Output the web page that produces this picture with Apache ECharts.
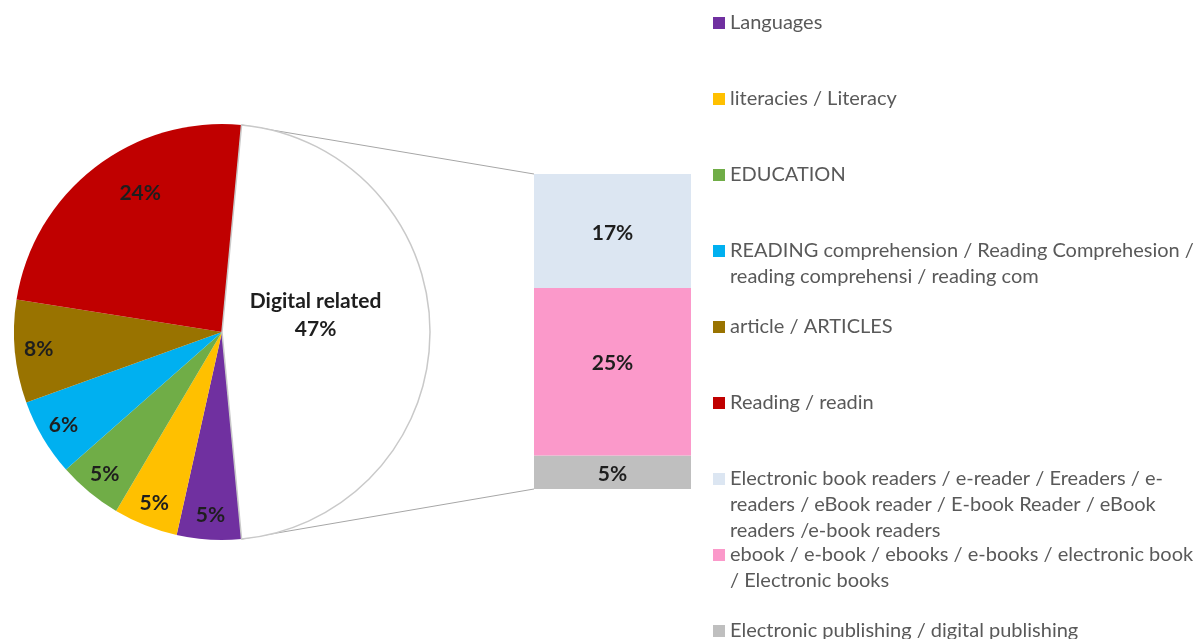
<!DOCTYPE html>
<html>
<head>
<meta charset="utf-8">
<script src="https://cdn.jsdelivr.net/npm/echarts@6/dist/echarts.min.js"></script>
<style>
    html, body { margin: 0; padding: 0; background: #fff; }
    #chart { width: 1201px; height: 639px; }
</style>
</head>
<body>
<div id="chart"></div>
<script>
// pie slices (clockwise, starting after the "Digital related" slice)
const pieNames = [
    'Languages',
    'literacies / Literacy',
    'EDUCATION',
    'READING comprehension / Reading Comprehesion /\nreading comprehensi / reading com',
    'article / ARTICLES',
    'Reading / readin',
];
const pieValues = [5, 5, 5, 6, 8, 24];
const pieColors = ['#7030a0', '#ffc000', '#70ad47', '#00b0f0', '#997300', '#c00000'];

// breakdown of the "Digital related" slice, top to bottom in the bar
const groupName = 'Digital related';
const barNames = [
    'Electronic book readers / e-reader / Ereaders / e-\nreaders / eBook reader / E-book Reader / eBook\nreaders /e-book readers',
    'ebook / e-book / ebooks / e-books / electronic book\n/ Electronic books',
    'Electronic publishing / digital publishing',
];
const barValues = [17, 25, 5];
const barColors = ['#dce6f2', '#fb99ca', '#bfbfbf'];

const FONT = 'Lato, "Noto Sans", sans-serif';
const pieCenter = [222, 332];
const pieRadius = 208;
const barGrid = { left: 534, top: 174, width: 157, height: 315 };

const groupTotal = barValues.reduce((a, b) => a + b, 0);
const total = groupTotal + pieValues.reduce((a, b) => a + b, 0);
const groupAngle = groupTotal / total * 360;

const chart = echarts.init(document.getElementById('chart'));

// label placement inside the pie (fraction of radius + small nudge)
const labelPlace = (idx) => {
    if (idx === pieNames.length) return { k: 0.45, dx: 0, dy: -17 };
    if (idx === 5) return { k: 0.775, dx: 17, dy: -11 };
    return { k: 0.885, dx: 0, dy: 0 };
};

const legendItems = [...pieNames, ...barNames];

chart.setOption({
    animation: false,
    legend: legendItems.map((name, i) => {
        const lines = name.split('\n').length;
        // pad with blank lines so the icon sits on the first text line
        const padded = 2 * lines - 1;
        return {
            data: [name],
            orient: 'vertical',
            left: 713,
            top: 23 + 76 * i - padded * 13,
            padding: 0,
            icon: 'rect',
            itemWidth: 12,
            itemHeight: 12,
            selectedMode: false,
            formatter: (n) => '\n'.repeat(lines - 1) + n,
            textStyle: { fontFamily: FONT, fontSize: 20, color: '#595959', lineHeight: 26 },
        };
    }),
    grid: barGrid,
    xAxis: { type: 'category', data: [groupName], show: false },
    yAxis: { type: 'value', min: 0, max: groupTotal, show: false },
    series: [
        {
            type: 'pie',
            center: pieCenter,
            radius: pieRadius,
            startAngle: -groupAngle / 2,
            clockwise: true,
            avoidLabelOverlap: false,
            silent: true,
            emphasis: { disabled: true },
            data: [
                ...pieNames.map((name, i) => ({
                    name,
                    value: pieValues[i],
                    itemStyle: { color: pieColors[i] },
                })),
                {
                    name: groupName,
                    value: groupTotal,
                    itemStyle: { color: '#ffffff', borderColor: '#c9c9c9', borderWidth: 1.5 },
                },
            ],
            label: {
                position: 'inside',
                fontFamily: FONT,
                fontWeight: 'bold',
                fontSize: 21,
                lineHeight: 28,
                color: '#1e1e1e',
                align: 'center',
                verticalAlign: 'middle',
                formatter: (p) => (p.name === groupName ? `${p.name}\n${p.value}%` : `${p.value}%`),
            },
            labelLine: { show: false },
            labelLayout: (p) => {
                const r = p.labelRect;
                const lx = r.x + r.width / 2 - pieCenter[0];
                const ly = r.y + r.height / 2 - pieCenter[1];
                const len = Math.sqrt(lx * lx + ly * ly) || 1;
                const pl = labelPlace(p.dataIndex);
                return {
                    x: pieCenter[0] + lx / len * pieRadius * pl.k + pl.dx,
                    y: pieCenter[1] + ly / len * pieRadius * pl.k + pl.dy,
                    align: 'center',
                    verticalAlign: 'middle',
                };
            },
        },
        // stacked bar, drawn bottom-up
        ...barNames.map((name, i) => ({ name, i })).reverse().map(({ name, i }) => ({
            type: 'bar',
            name,
            stack: 'digital',
            barWidth: '100%',
            silent: true,
            emphasis: { disabled: true },
            data: [barValues[i]],
            itemStyle: { color: barColors[i] },
            label: {
                show: true,
                position: 'inside',
                offset: [0, i === 1 ? -8 : 2],
                fontFamily: FONT,
                fontWeight: 'bold',
                fontSize: 21,
                color: '#1e1e1e',
                formatter: '{c}%',
            },
        })),
    ],
});

// connector lines from the pie slice edges to the bar corners
const half = groupAngle / 2 * Math.PI / 180;
const px = pieCenter[0] + pieRadius * Math.cos(half);
const pyTop = pieCenter[1] - pieRadius * Math.sin(half);
const pyBot = pieCenter[1] + pieRadius * Math.sin(half);
const barTop = chart.convertToPixel({ yAxisIndex: 0 }, groupTotal);
const barBot = chart.convertToPixel({ yAxisIndex: 0 }, 0);
chart.setOption({
    graphic: [
        { type: 'line', z: -1, shape: { x1: px, y1: pyTop, x2: barGrid.left, y2: barTop }, style: { stroke: '#a6a6a6', lineWidth: 1 } },
        { type: 'line', z: -1, shape: { x1: px, y1: pyBot, x2: barGrid.left, y2: barBot }, style: { stroke: '#a6a6a6', lineWidth: 1 } },
    ],
});
</script>
</body>
</html>
